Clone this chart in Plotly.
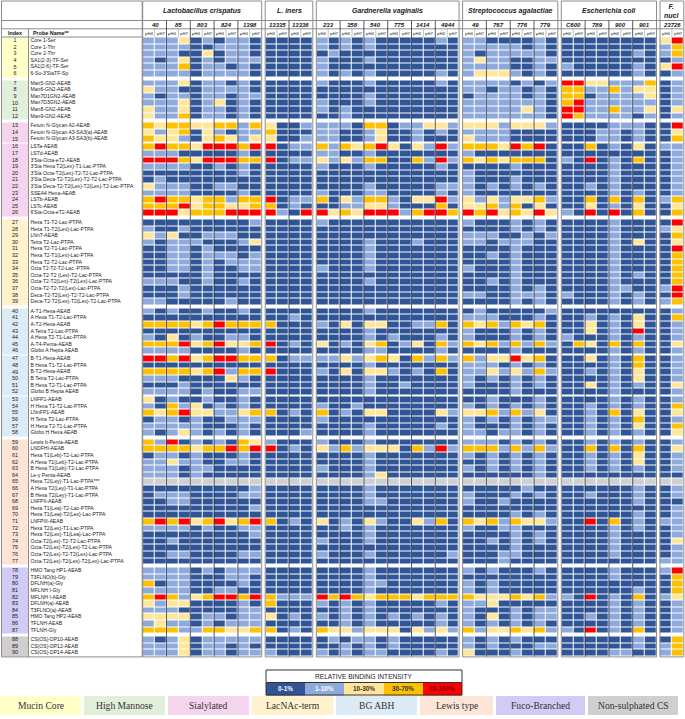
import numpy as np
import plotly.graph_objects as go

# ---------------------------------------------------------------- data
species = ["Lactobacillus crispatus", "L. iners", "Gardnerella vaginalis",
           "Streptococcus agalactiae", "Escherichia coli", "F.<br>nucl"]
strains = [["40", "85", "803", "824", "1398"],
           ["13335", "13336"],
           ["233", "358", "540", "775", "1414", "4944"],
           ["49", "767", "776", "779"],
           ["C600", "789", "900", "901"],
           ["23726"]]
ph_labels = ["pH4", "pH7"]

probe_names = [
    "Core 1-Ser", "Core 1-Thr", "Core 2-Thr", "SA1(2-3)-TF-Ser", "SA1(2-6)-TF-Ser",
    "6-Su-3'SiaTF-Sp", "Man5-GN2-AEAB", "Man6-GN2-AEAB", "Man7D1GN2-AEAB",
    "Man7D3GN2-AEAB", "Man8-GN2-AEAB", "Man9-GN2-AEAB", "Fetuin N-Glycan A2-AEAB",
    "Fetuin N-Glycan A3-SA3(a)-AEAB", "Fetuin N-Glycan A3-SA3(b)-AEAB", "LSTa-AEAB",
    "LSTd-AEAB", "3'Sia-Octa-eT2-AEAB", "3'Sia Hexa T2(Lex)-T1-Lac-PTPA",
    "3'Sia Octa-T2(Lex)-T2-T2-Lac-PTPA", "3'Sia Deca-T2-T2(Lex)-T2-T2-Lac-PTPA",
    "3'Sia Deca-T2-T2(Lex)-T2(Lex)-T2-Lac-PTPA", "SSEA4 Hexa-AEAB", "LSTb-AEAB",
    "LSTc-AEAB", "6'Sia-Octa-eT2-AEAB", "Hexa T1-T2-Lac-PTPA", "Hexa T1-T2(Lex)-Lac-PTPA",
    "LNnT-AEAB", "Tetra T2-Lac-PTPA", "Hexa T2-T1-Lac-PTPA", "Hexa T2-T1(Lex)-Lac-PTPA",
    "Hexa T2-T2-Lac-PTPA", "Octa T2-T2-T2-Lac -PTPA", "Octa-T2-T2 (Lex)-T2-Lac-PTPA",
    "Octa-T2-T2(Lex)-T2(Lex)-Lac-PTPA", "Octa-T2-T2-T2(Lex)-Lac-PTPA",
    "Deca-T2-T2(Lex)-T2-T2-Lac-PTPA", "Deca-T2-T2(Lex)-T2(Lex)-T2-Lac-PTPA",
    "A-T1-Hexa-AEAB", "A Hexa T1-T2-Lac-PTPA", "A-T2-Hexa-AEAB", "A Tetra T2-Lac-PTPA",
    "A Hexa T2-T1-Lac-PTPA", "A-T4-Penta-AEAB", "Globo A Hepta AEAB", "B-T1-Hexa-AEAB",
    "B Hexa T1-T2-Lac-PTPA", "B-T2-Hexa-AEAB", "B Tetra T2-Lac-PTPA",
    "B Hexa T2-T1-Lac-PTPA", "Globo B Hepta AEAB", "LNFP1-AEAB", "H Hexa T1-T2-Lac-PTPA",
    "LNnFP1-AEAB", "H Tetra T2-Lac-PTPA", "H Hexa T2-T1-Lac-PTPA", "Globo H Hexa AEAB",
    "Lewis b-Penta-AEAB", "LNDFHI-AEAB", "Hexa T1(Leb)-T2-Lac-PTPA",
    "A Hexa T1(Leb)-T2-Lac-PTPA", "B Hexa T1(Leb)-T2-Lac-PTPA", "Le-y Penta-AEAB",
    "Hexa T2(Ley)-T1-Lac-PTPA***", "A Hexa T2(Ley)-T1-Lac-PTPA",
    "B Hexa T2(Ley)-T1-Lac-PTPA", "LNFPII-AEAB", "Hexa T1(Lea)-T2-Lac-PTPA",
    "Hexa T1(Lea)-T2(Lex)-Lac-PTPA", "LNFPIII-AEAB", "Hexa T2(Lex)-T1-Lac-PTPA",
    "Hexa T2(Lex)-T1(Lea)-Lac-PTPA", "Octa-T2(Lex)-T2-T2-Lac-PTPA",
    "Octa-T2(Lex)-T2(Lex)-T2-Lac-PTPA", "Octa-T2(Lex)-T2-T2(Lex)-Lac-PTPA",
    "Octa-T2(Lex)-T2(Lex)-T2(Lex)-Lac-PTPA", "HMO Tang HP1-AEAB", "T3FLNO(b)-Gly",
    "DFLNH(a)-Gly", "MFLNH I-Gly", "MFLNH I-AEAB", "DFLNH(a)-AEAB", "T3FLNO(a)-AEAB",
    "HMO Tang HP2-AEAB", "TFLNH-AEAB", "TFLNH-Gly", "CS(OS)-DP10-AEAB",
    "CS(OS)-DP12-AEAB", "CS(OS)-DP14-AEAB",
]

glycan_classes = ["Mucin Core", "High Mannose", "Sialylated", "LacNAc-term", "BG ABH",
                  "Lewis type", "Fuco-Branched", "Non-sulphated CS"]
class_sizes = [6, 6, 14, 13, 19, 19, 10, 3]
minor_breaks = [15, 46, 52]          # thin rule after these probes
intensity_labels = ["0-1%", "1-10%", "10-30%", "30-70%", "70-100%"]

# binding class per probe (one digit per strain/pH column):
# 0 = 0-1%, 1 = 1-10%, 2 = 10-30%, 3 = 30-70%, 4 = 70-100%, 5 = not printed
l_crispatus = [
    "1112010110", "1111001110", "1110020110", "1012010111", "1113011010", "1111011110",
    "1112011010", "2110011110", "1011011011", "1112012010", "2112011010", "2113011010",
    "3233223313", "2123021011", "3221023212", "3433244434", "1110000010", "4443244433",
    "1111001010", "0000000010", "0100000000", "2111001100", "1111000010", "3433233133",
    "3334233223", "4442333444", "0000000001", "1001000000", "2120011100", "1011100012",
    "0011010000", "0011011101", "0011010111", "0011010011", "0000010000", "1110010010",
    "0001000000", "0001000000", "1100000100", "1010010010", "0000000000", "3333234333",
    "0000000000", "1020100110", "3334234223", "1111000010", "4434234433", "0000000000",
    "3333234133", "1110000210", "0001000000", "1111010011", "2010010010", "1031201010",
    "3234221123", "0110100111", "1111100010", "1012101010", "3140101032", "3333233434",
    "0110100010", "1121100110", "1110110000", "1110100000", "5555555555", "0000000001",
    "0111000011", "0011000000", "0000000001", "0000000000", "3434234234", "1111010011",
    "0000000001", "0010000000", "0000000000", "0011000011", "0000000000", "1111010111",
    "1111000110", "3011000010", "1111001100", "3431234434", "2122000010", "1110000011",
    "2222011011", "1211010111", "3331133223", "1012011111", "1112011010", "1112011011",
]
l_iners = [
    "0000", "0000", "0000", "0000", "0000", "0000", "0000", "0000", "0000", "0000",
    "0000", "0000", "2001", "3000", "2001", "4011", "0000", "4011", "0000", "0000",
    "0000", "0000", "0000", "4011", "3010", "4104", "0000", "0000", "0000", "0000",
    "0000", "0000", "0000", "0000", "0000", "0000", "0000", "0000", "0000", "0000",
    "0010", "3000", "0000", "0000", "4010", "0000", "3011", "0000", "4000", "0000",
    "0000", "0000", "0000", "0000", "3010", "0000", "0000", "0001", "1000", "4010",
    "0000", "0000", "0000", "0000", "5555", "0000", "0000", "0000", "0000", "0000",
    "3010", "0000", "0000", "0000", "0000", "0000", "0000", "0000", "0000", "0000",
    "0000", "3111", "3000", "0000", "2010", "0000", "3010", "0000", "0000", "1000",
]
g_vaginalis = [
    "101010000010", "101010000000", "010000000000", "100010000000", "100000000000",
    "101010000010", "100010000010", "000000000000", "000010000000", "100010000000",
    "101000000000", "001000000000", "111033011221", "110012001010", "110012001000",
    "313234202141", "110010000000", "212133003141", "100010000010", "000000000000",
    "000000000000", "000010000011", "100011000010", "302133102241", "001122100030",
    "423244413443", "100000000000", "000000000000", "000000000000", "000010001000",
    "000010000000", "000010000000", "000010000000", "100010000000", "000000000000",
    "000010000000", "000000000000", "000000000000", "000000000000", "000010000000",
    "000000000000", "102022001130", "000010000000", "000010100010", "201023012031",
    "000011000010", "112123203131", "000010000000", "102022101030", "000010000000",
    "000010010000", "000010000000", "000000000000", "100100000000", "301022000021",
    "100000000000", "000010000010", "000010000000", "100010000000", "213122203141",
    "000010000000", "000010000000", "100010000000", "000012000000", "555555555555",
    "000010000000", "000010000000", "000011000000", "000000000000", "000000000000",
    "201021002130", "001010000000", "000010000000", "100010000000", "000000000000",
    "100010000001", "000000000000", "000010000000", "000010000000", "000011000000",
    "000010000000", "434323332333", "101010000010", "001010000000", "101010101010",
    "001010000010", "322122202121", "010110100000", "001010100000", "101011000010",
]
s_agalactiae = [
    "11000010", "11111010", "10111110", "12110011", "11110010", "12221010",
    "11110101", "11011010", "01111010", "11111110", "11111210", "11111110",
    "22212221", "11110000", "21110000", "33324340", "10000000", "32323330",
    "00001000", "10000000", "10001000", "10101010", "10000000", "21212231",
    "22313020", "43423242", "10001010", "00001010", "11100101", "11011100",
    "00001000", "00101000", "00001000", "10001000", "00001000", "00101000",
    "00001010", "11001110", "00001010", "01000001", "11100010", "32313230",
    "10001010", "10001010", "32313131", "00001000", "31224230", "11101010",
    "11212131", "10101010", "10001010", "00001000", "00100010", "10101010",
    "22313120", "10101011", "10001010", "11011010", "11101010", "33313131",
    "10101010", "00101010", "10101010", "00000010", "55555555", "00000100",
    "10001010", "10010000", "00000000", "00001010", "32313221", "10011000",
    "00001010", "00101010", "00001000", "00011000", "00010000", "10100010",
    "00000000", "10100000", "10100000", "32223231", "11200000", "10001011",
    "10201011", "10101010", "31223231", "10101000", "10100011", "20001000",
]
e_coli = [
    "00000000", "00000000", "00000010", "00000000", "10000010", "00000010",
    "44221113", "33113122", "33011112", "34111111", "44113112", "43111101",
    "00001110", "00011010", "00011010", "00301020", "00000000", "10401030",
    "00001000", "00001000", "00001000", "00101000", "00001010", "00303030",
    "00201020", "10404030", "00001000", "00001000", "00001000", "00001020",
    "00001000", "00001000", "00001000", "00001000", "00001010", "00001000",
    "00001100", "10001010", "00001010", "00000000", "00101020", "00201020",
    "00201040", "10001010", "03203030", "00001010", "00201030", "00001030",
    "00101020", "00001020", "00201010", "00001000", "00001010", "00101010",
    "00103020", "00101030", "00101020", "00101010", "00101010", "00303030",
    "00101020", "00101020", "00101010", "00000000", "55555555", "00000010",
    "00100010", "00000010", "00000000", "00000010", "00403010", "00001010",
    "00001000", "00001000", "00001000", "00001000", "00000000", "00001000",
    "00001000", "00000000", "00000010", "10401030", "00001010", "00001010",
    "00101010", "00001010", "10401030", "00000010", "00000010", "00001100",
]
f_nucleatum = [
    "24", "13", "13", "01", "24", "01", "01", "01", "01", "01", "02", "01",
    "04", "02", "03", "11", "01", "01", "01", "01", "01", "01", "01", "13",
    "02", "03", "04", "12", "03", "02", "04", "03", "03", "03", "03", "03",
    "14", "04", "13", "01", "03", "01", "01", "01", "02", "01", "01", "01",
    "01", "01", "02", "01", "01", "03", "02", "01", "03", "02", "01", "02",
    "01", "01", "01", "00", "55", "01", "01", "00", "01", "01", "11", "01",
    "01", "02", "01", "01", "11", "14", "03", "03", "03", "12", "01", "01",
    "01", "01", "01", "03", "13", "13",
]
binding = [l_crispatus, l_iners, g_vaginalis, s_agalactiae, e_coli, f_nucleatum]

# ---------------------------------------------------------------- styles / geometry
W, H = 685, 719
FONT = "Liberation Sans, Arial, sans-serif"
level_colors = ["#2F5597", "#8EA9DB", "#FFE699", "#FFC000", "#FF0000", "#D0CECE"]
class_colors = ["#FFFFC8", "#E2EFDA", "#F5D5EE", "#FFF2CC", "#DDEBF7", "#FCE4D6",
                "#D2CBF5", "#D0CECE"]
CW, RH = 11.9, 6.6            # cell width / row height (px)
X0, Y0 = 142.7, 37.5          # top-left of the heat map
SP_GAP, BIG_GAP, SMALL_GAP = 3.5, 3.0, 1.3
LEFT, IDX_R = 1.5, 28.5
GRID = "#8C8C8C"


def discrete_scale(colors):
    n = len(colors)
    out = []
    for i, c in enumerate(colors):
        out += [[i / n, c], [(i + 1) / n, c]]
    return out


# row edges, with white separator rows between glycan classes
class_of_row = np.repeat(np.arange(len(class_sizes)), class_sizes)
class_starts = set(np.cumsum(class_sizes)[:-1].tolist())
y_edges, row_ids, y = [Y0], [], Y0
for r in range(len(probe_names)):
    gap = BIG_GAP if r in class_starts else (SMALL_GAP if r in minor_breaks else 0)
    if gap:
        y += gap
        y_edges.append(y)
        row_ids.append(None)
    y += RH
    y_edges.append(y)
    row_ids.append(r)
Y_END = y
row_centers = [(y_edges[i] + y_edges[i + 1]) / 2 for i, rid in enumerate(row_ids) if rid is not None]

# column edges, with white gaps between species
x_edges, col_ids, spans, x = [X0], [], [], X0
for s, st in enumerate(strains):
    if s:
        x += SP_GAP
        x_edges.append(x)
        col_ids.append(None)
    start = x
    for k in range(2 * len(st)):
        x += CW
        x_edges.append(x)
        col_ids.append((s, k))
    spans.append((start, x))
X_END = x

z = [[None if (rid is None or cid is None) else int(binding[cid[0]][rid][cid[1]])
      for cid in col_ids] for rid in row_ids]
z_class = [[None if rid is None else int(class_of_row[rid])] for rid in row_ids]

fig = go.Figure()

fig.add_trace(go.Heatmap(
    x=x_edges, y=y_edges, z=z, zmin=-0.5, zmax=5.5,
    colorscale=discrete_scale(level_colors), showscale=False,
    xgap=1, ygap=1, hoverinfo="skip"))

fig.add_trace(go.Heatmap(
    x=[LEFT, IDX_R], y=y_edges, z=z_class, zmin=-0.5, zmax=len(class_colors) - 0.5,
    colorscale=discrete_scale(class_colors), showscale=False, hoverinfo="skip"))

fig.add_trace(go.Scatter(
    x=[(LEFT + IDX_R) / 2] * len(probe_names), y=row_centers,
    text=[str(i + 1) for i in range(len(probe_names))], mode="text",
    textposition="middle center", textfont=dict(family=FONT, size=5.4, color="#1a1a1a"),
    hoverinfo="skip", showlegend=False))

fig.add_trace(go.Scatter(
    x=[IDX_R + 2] * len(probe_names), y=row_centers, text=probe_names, mode="text",
    textposition="middle right", textfont=dict(family=FONT, size=5.1, color="#1a1a1a"),
    hoverinfo="skip", showlegend=False))

# ---------------------------------------------------------------- header
ann = []
for s, (a, b) in enumerate(spans):
    two_line = "<br>" in species[s]
    ann.append(dict(x=(a + b) / 2, y=10.5, text="<b><i>%s</i></b>" % species[s],
                    font=dict(family=FONT, size=7.0, color="#222"), showarrow=False))
    for i, name in enumerate(strains[s]):
        ann.append(dict(x=a + (2 * i + 1) * CW, y=24.8, text="<b><i>%s</i></b>" % name,
                        font=dict(family=FONT, size=6.0, color="#111"), showarrow=False))
        for k, ph in enumerate(ph_labels):
            ann.append(dict(x=a + (2 * i + k + 0.5) * CW, y=33, text=ph,
                            font=dict(family=FONT, size=4.3, color="#222"), showarrow=False))
ann.append(dict(x=(LEFT + IDX_R) / 2, y=33, text="<b>Index</b>",
                font=dict(family=FONT, size=5.4, color="#111"), showarrow=False))
ann.append(dict(x=IDX_R + 2, y=33, text="<b>Probe Name**</b>", xanchor="left",
                font=dict(family=FONT, size=5.4, color="#111"), showarrow=False))

shapes = []


def line(x0, y0, x1, y1, color=GRID, width=1):
    shapes.append(dict(type="line", x0=x0, y0=y0, x1=x1, y1=y1, layer="above",
                       line=dict(color=color, width=width)))


# left table frame
shapes.append(dict(type="rect", x0=LEFT, y0=1, x1=X0 - 0.5, y1=Y_END + 0.5,
                   line=dict(color=GRID, width=1), layer="above"))
line(IDX_R, 28.8, IDX_R, Y_END + 0.5)
for yy in (20.5, 28.8):
    line(LEFT, yy, X_END, yy)
line(LEFT, Y0 - 0.5, X0, Y0 - 0.5)
# species blocks, strain and pH separators
for s, (a, b) in enumerate(spans):
    shapes.append(dict(type="rect", x0=a, y0=1, x1=b, y1=Y_END + 0.5,
                       line=dict(color=GRID, width=1), layer="above"))
    for i in range(1, len(strains[s])):
        line(a + 2 * i * CW, 20.5, a + 2 * i * CW, Y_END, color="rgba(25,35,60,0.75)")
    for i in range(len(strains[s])):
        line(a + (2 * i + 1) * CW, 28.8, a + (2 * i + 1) * CW, Y0, color="#A0A0A0", width=0.6)

# ---------------------------------------------------------------- intensity key
KX0, KX1, KY0, KY1, KY2 = 266, 462, 670, 682.5, 695
kw = (KX1 - KX0) / len(intensity_labels)
key_edges = [KX0 + i * kw for i in range(len(intensity_labels) + 1)]
fig.add_trace(go.Heatmap(
    x=key_edges, y=[KY1, KY2], z=[list(range(len(intensity_labels)))], zmin=-0.5, zmax=5.5,
    colorscale=discrete_scale(level_colors), showscale=False, hoverinfo="skip"))
shapes.append(dict(type="rect", x0=KX0, y0=KY0, x1=KX1, y1=KY2,
                   line=dict(color="#333", width=1), layer="above"))
line(KX0, KY1, KX1, KY1, color="#333")
ann.append(dict(x=(KX0 + KX1) / 2, y=(KY0 + KY1) / 2, text="RELATIVE BINDING INTENSITY",
                font=dict(family=FONT, size=6.6, color="#222"), showarrow=False))
key_text = ["white", "white", "#333", "#333", "#7a0000"]
for i, lab in enumerate(intensity_labels):
    ann.append(dict(x=KX0 + (i + 0.5) * kw, y=(KY1 + KY2) / 2, text="<b>%s</b>" % lab,
                    font=dict(family=FONT, size=6.4, color=key_text[i]), showarrow=False))

# ---------------------------------------------------------------- glycan class strip
strip_x = [0, 84, 168, 252, 336, 420, 496, 588, 678]
for i, name in enumerate(glycan_classes):
    x0 = strip_x[i]
    x1 = strip_x[i + 1] - 3 if i < len(glycan_classes) - 1 else strip_x[i + 1]
    shapes.append(dict(type="rect", x0=x0, y0=696, x1=x1, y1=715,
                       fillcolor=class_colors[i], line=dict(width=0), layer="below"))
    ann.append(dict(x=(x0 + x1) / 2, y=705.5, text=name, showarrow=False,
                    font=dict(family="Liberation Serif, Times New Roman, serif", size=9.6,
                              color="#333")))

fig.update_layout(
    width=W, height=H, margin=dict(l=0, r=0, t=0, b=0),
    paper_bgcolor="white", plot_bgcolor="white", showlegend=False,
    xaxis=dict(range=[0, W], visible=False, fixedrange=True),
    yaxis=dict(range=[H, 0], visible=False, fixedrange=True),
    annotations=ann, shapes=shapes,
)

# the page's default body margin would push the fixed-size figure off the window
fig.write_html("out.html", config={"displayModeBar": False},
               post_script="document.body.style.margin = '0';")
